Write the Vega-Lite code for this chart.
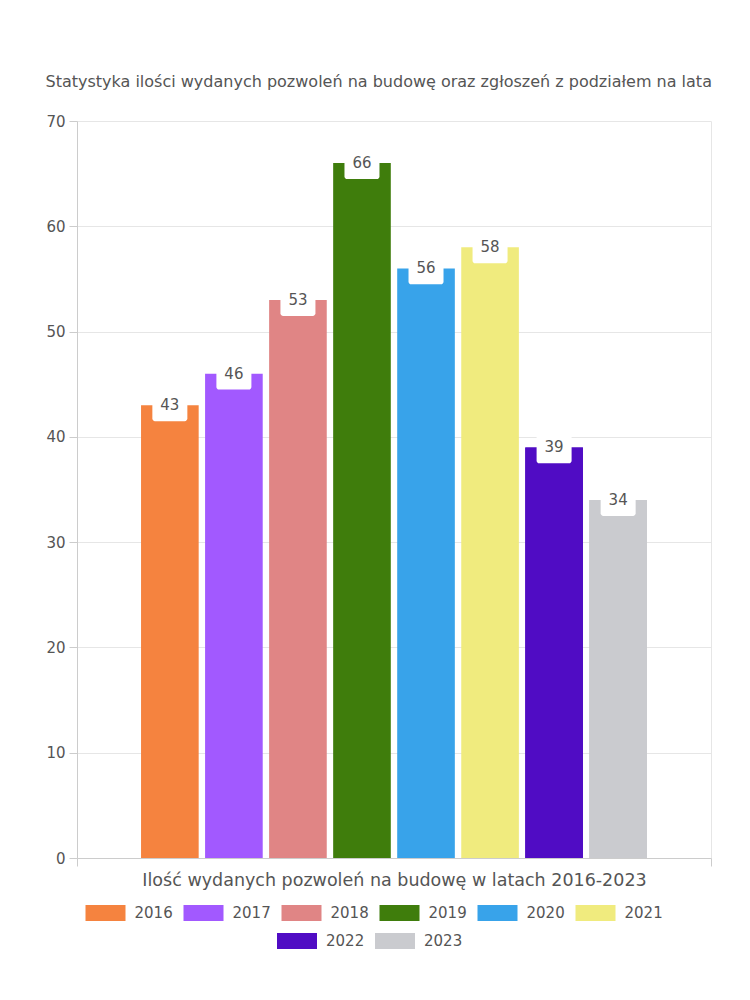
{
  "$schema": "https://vega.github.io/schema/vega-lite/v6.json",
  "width": 634,
  "height": 737,
  "padding": {"left": 45, "top": 74, "right": 40, "bottom": 10},
  "background": "white",
  "title": {
    "text": "Statystyka ilości wydanych pozwoleń na budowę oraz zgłoszeń z podziałem na lata",
    "anchor": "middle",
    "frame": "bounds",
    "fontSize": 16,
    "fontWeight": "normal",
    "color": "#555555",
    "font": "DejaVu Sans",
    "offset": 24
  },
  "config": {
    "font": "DejaVu Sans",
    "view": {"stroke": null},
    "axis": {"labelColor": "#555555", "titleColor": "#555555", "domainColor": "#cccccc", "tickColor": "#cccccc", "gridColor": "#e6e6e6"},
    "legend": {"layout": {"bottom": {"anchor": "start", "direction": "vertical", "center": true, "margin": 0}}}
  },
  "resolve": {"scale": {"fill": "independent"}},
  "data": {
    "values": [
      {"grupa": "Ilość wydanych pozwoleń na budowę w latach 2016-2023", "rok": "2016", "ilosc": 43},
      {"grupa": "Ilość wydanych pozwoleń na budowę w latach 2016-2023", "rok": "2017", "ilosc": 46},
      {"grupa": "Ilość wydanych pozwoleń na budowę w latach 2016-2023", "rok": "2018", "ilosc": 53},
      {"grupa": "Ilość wydanych pozwoleń na budowę w latach 2016-2023", "rok": "2019", "ilosc": 66},
      {"grupa": "Ilość wydanych pozwoleń na budowę w latach 2016-2023", "rok": "2020", "ilosc": 56},
      {"grupa": "Ilość wydanych pozwoleń na budowę w latach 2016-2023", "rok": "2021", "ilosc": 58},
      {"grupa": "Ilość wydanych pozwoleń na budowę w latach 2016-2023", "rok": "2022", "ilosc": 39},
      {"grupa": "Ilość wydanych pozwoleń na budowę w latach 2016-2023", "rok": "2023", "ilosc": 34}
    ]
  },
  "encoding": {
    "x": {
      "field": "grupa",
      "type": "nominal",
      "scale": {"paddingInner": 0, "paddingOuter": 0},
      "axis": {
        "title": null,
        "labelAngle": 0,
        "labelFontSize": 17.5,
        "labelPadding": 5,
        "labelLimit": 0,
        "tickBand": "extent",
        "grid": true,
        "ticks": true,
        "tickSize": 8,
        "domain": true
      }
    },
    "xOffset": {
      "field": "rok",
      "type": "nominal",
      "scale": {"paddingInner": 0.1, "paddingOuter": 1.05}
    },
    "y": {
      "field": "ilosc",
      "type": "quantitative",
      "scale": {"domain": [0, 70]},
      "axis": {
        "title": null,
        "values": [0, 10, 20, 30, 40, 50, 60, 70],
        "labelFontSize": 15,
        "tickSize": 8,
        "labelPadding": 4,
        "domain": true
      }
    }
  },
  "layer": [
    {
      "mark": {"type": "bar"},
      "encoding": {
        "fill": {
          "field": "rok",
          "type": "nominal",
          "scale": {
            "domain": ["2016", "2017", "2018", "2019", "2020", "2021", "2022", "2023"],
            "range": ["#F5833F", "#A259FF", "#E08585", "#3F7D0C", "#38A3EA", "#F0EB7E", "#500CC4", "#CACBCF"]
          },
          "legend": {
            "title": " ",
            "titleOrient": "left",
            "titleFontSize": 11,
            "titlePadding": 8.5,
            "orient": "bottom",
            "direction": "horizontal",
            "values": ["2016", "2017", "2018", "2019", "2020", "2021"],
            "symbolType": "M-1,-0.4L1,-0.4L1,0.4L-1,0.4Z",
            "symbolSize": 1600,
            "symbolStrokeWidth": 0,
            "labelFontSize": 15,
            "labelColor": "#555555",
            "labelOffset": 9,
            "columnPadding": 10,
            "offset": 4
          }
        }
      }
    },
    {
      "transform": [{"filter": "datum.rok == '2022' || datum.rok == '2023'"}],
      "mark": {"type": "bar"},
      "encoding": {
        "fill": {
          "field": "rok",
          "type": "nominal",
          "scale": {"domain": ["2022", "2023"], "range": ["#500CC4", "#CACBCF"]},
          "legend": {
            "title": null,
            "orient": "bottom",
            "direction": "horizontal",
            "symbolType": "M-1,-0.4L1,-0.4L1,0.4L-1,0.4Z",
            "symbolSize": 1600,
            "symbolStrokeWidth": 0,
            "labelFontSize": 15,
            "labelColor": "#555555",
            "labelOffset": 9,
            "columnPadding": 10
          }
        }
      }
    },
    {
      "mark": {
        "type": "point",
        "filled": true,
        "color": "white",
        "opacity": 1,
        "shape": "M-0.85,-0.91L0.85,-0.91A0.15,0.15 0 0 1 1,-0.76L1,0.76A0.15,0.15 0 0 1 0.85,0.91L-0.85,0.91A0.15,0.15 0 0 1 -1,0.76L-1,-0.76A0.15,0.15 0 0 1 -0.85,-0.91Z",
        "size": 1225
      }
    },
    {
      "mark": {"type": "text", "fontSize": 15, "color": "#555555", "baseline": "middle", "dy": 0},
      "encoding": {"text": {"field": "ilosc", "type": "quantitative"}}
    }
  ]
}
